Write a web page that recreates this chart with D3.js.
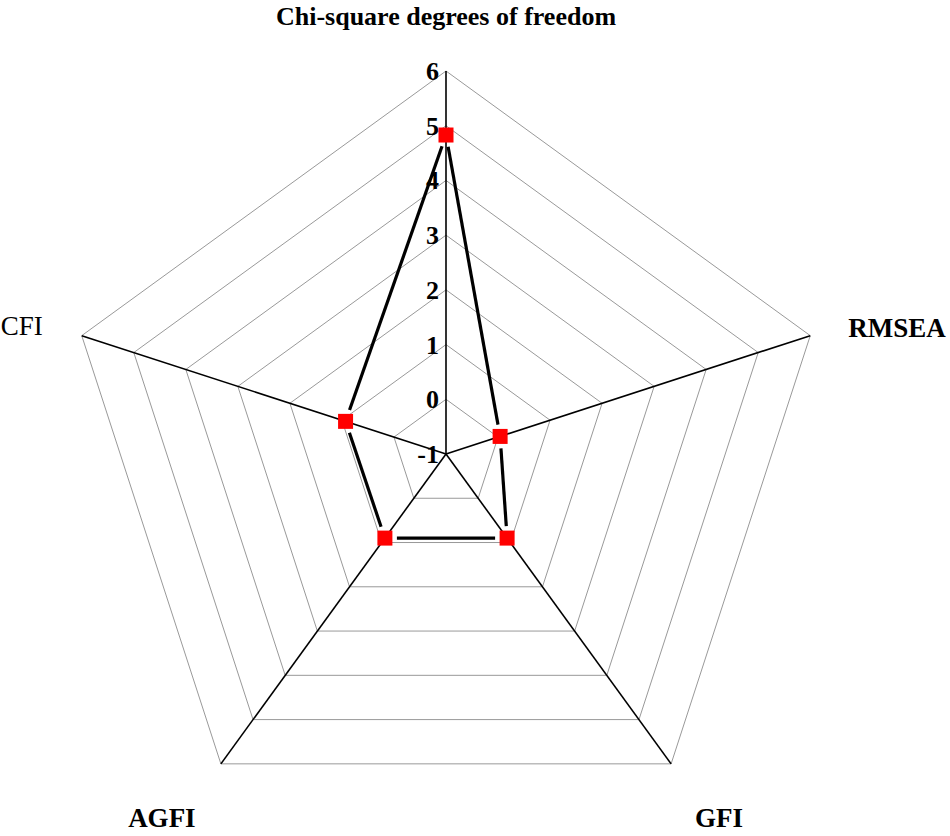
<!DOCTYPE html>
<html><head><meta charset="utf-8">
<script src="https://cdn.jsdelivr.net/npm/d3@7/dist/d3.min.js"></script>
<style>body{margin:0;background:#fff}svg{display:block}</style>
</head><body>
<script>
const axesNames = ["Chi-square degrees of freedom", "RMSEA", "GFI", "AGFI", "CFI"];
const values = [4.83, 0.04, 0.90, 0.90, 0.93];
const ringTicks = [-1, 0, 1, 2, 3, 4, 5, 6];

const W = 950, H = 836;
const cx = 446, cy = 454, R = 383;
const svg = d3.select("body").append("svg").attr("width", W).attr("height", H);

const r = d3.scaleLinear().domain([-1, 6]).range([0, R]);
const ang = d3.scalePoint().domain(d3.range(axesNames.length + 1)).range([0, 2 * Math.PI]);
function pt(i, v) {
  const a = ang(i % axesNames.length);
  return [cx + r(v) * Math.sin(a), cy - r(v) * Math.cos(a)];
}
const font = "'Liberation Serif','Times New Roman',serif";

// grid rings
const line = d3.line();
ringTicks.filter(t => t > -1).forEach(t => {
  const pts = axesNames.map((_, i) => pt(i, t));
  svg.append("path").attr("d", line(pts) + "Z")
    .attr("fill", "none").attr("stroke", "#999").attr("stroke-width", 1);
});
// spokes
axesNames.forEach((_, i) => {
  const [x, y] = pt(i, 6);
  svg.append("line").attr("x1", cx).attr("y1", cy).attr("x2", x).attr("y2", y)
    .attr("stroke", "#000").attr("stroke-width", 1.6);
});
// tick labels
ringTicks.forEach(t => {
  const [x, y] = pt(0, t);
  svg.append("text").attr("x", x - 7).attr("y", y + 9)
    .attr("text-anchor", "end").attr("font-family", font).attr("font-weight", "bold")
    .attr("font-size", 26).text(t);
});
// data line, trimmed near markers
const P = values.map((v, i) => pt(i, v));
const trim = 12;
P.forEach((p, i) => {
  const q = P[(i + 1) % P.length];
  const dx = q[0] - p[0], dy = q[1] - p[1], L = Math.hypot(dx, dy);
  const ux = dx / L, uy = dy / L;
  svg.append("line")
    .attr("x1", p[0] + ux * trim).attr("y1", p[1] + uy * trim)
    .attr("x2", q[0] - ux * trim).attr("y2", q[1] - uy * trim)
    .attr("stroke", "#000").attr("stroke-width", 3.2);
});
// markers
svg.selectAll("rect.m").data(values).enter().append("rect")
  .attr("x", (v, i) => pt(i, v)[0] - 7.5).attr("y", (v, i) => pt(i, v)[1] - 7.5)
  .attr("width", 15).attr("height", 15).attr("fill", "#ff0000");

// axis labels
const lbl = (x, y, txt, anchor, bold, size) => svg.append("text").attr("x", x).attr("y", y)
  .attr("text-anchor", anchor).attr("font-family", font)
  .attr("font-weight", bold ? "bold" : "normal").attr("font-size", size || 27).text(txt);
{
  const [x0, y0] = pt(0, 6); lbl(x0, y0 - 46, axesNames[0], "middle", true, 26);
  const [x1, y1] = pt(1, 6); lbl(x1 + 38, y1 + 1, axesNames[1], "start", true);
  const [x2, y2] = pt(2, 6); lbl(x2 + 48, y2 + 63, axesNames[2], "middle", true);
  const [x3, y3] = pt(3, 6); lbl(x3 - 59, y3 + 63, axesNames[3], "middle", true);
  const [x4, y4] = pt(4, 6); lbl(x4 - 39, y4 - 1, axesNames[4], "end", false);
}
</script>
</body></html>
